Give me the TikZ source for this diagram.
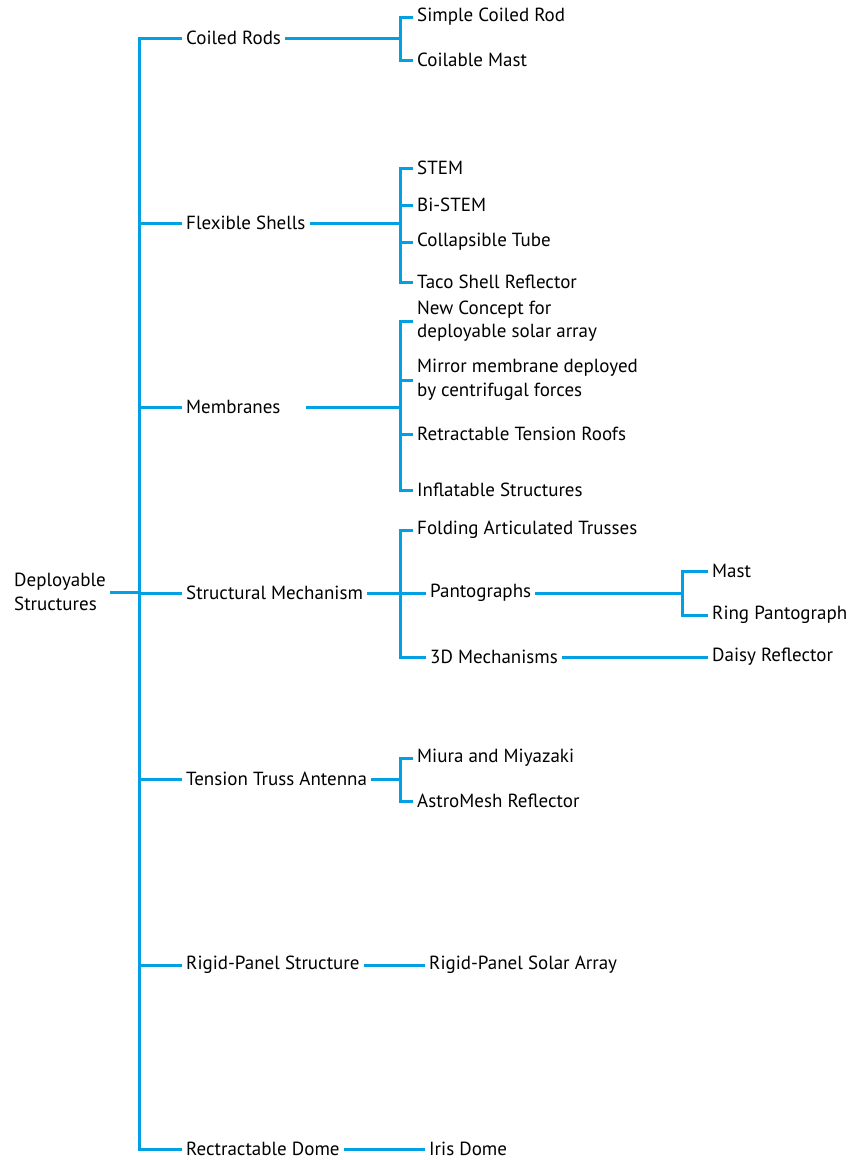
\documentclass[tikz,border=0pt]{standalone}
\usepackage{fontspec}
\setmainfont{PT Sans}
\definecolor{lineblue}{HTML}{00A0E3}
\begin{document}
\begin{tikzpicture}[x=1pt,y=-1pt,
  lbl/.style={anchor=west, inner xsep=4pt, inner ysep=0pt, align=left, font=\fontsize{19}{23.5}\selectfont},
  conn/.style={draw=lineblue, line width=3pt}]
\useasboundingbox (0,0) rectangle (850,1160);
% junction columns
\coordinate (vA) at (139,0);
\coordinate (vB) at (400,0);
\coordinate (vC) at (682,0);
% root
\node[lbl] (root) at (10,592) {Deployable\\Structures};
% level 1
\node[lbl] (cr)  at (182,38)   {Coiled Rods};
\node[lbl] (fs)  at (182,223)  {Flexible Shells};
\node[lbl] (mem) at (182,407)  {Membranes};
\node[lbl] (sm)  at (182,593)  {Structural Mechanism};
\node[lbl] (tta) at (182,779)  {Tension Truss Antenna};
\node[lbl] (rps) at (182,965)  {Rigid-Panel Structure};
\node[lbl] (rd)  at (182,1149) {Rectractable Dome};
% level 2
\node[lbl] (scr)  at (413,17)  {Simple Coiled Rod};
\node[lbl] (cm)   at (413,60)  {Coilable Mast};
\node[lbl] (stem) at (413,168) {STEM};
\node[lbl] (bst)  at (413,205) {Bi-STEM};
\node[lbl] (ct)   at (413,242) {Collapsible Tube};
\node[lbl] (taco) at (413,282) {Taco Shell Reflector};
\node[lbl] (nc)   at (413,321) {New Concept for\\deployable solar array};
\node[lbl] (mir)  at (413,380) {Mirror membrane deployed\\by centrifugal forces};
\node[lbl] (rtr)  at (413,434) {Retractable Tension Roofs};
\node[lbl] (inf)  at (413,490) {Inflatable Structures};
\node[lbl] (fat)  at (413,530) {Folding Articulated Trusses};
\node[lbl] (pan)  at (426,593) {Pantographs};
\node[lbl] (tdm)  at (426,657) {3D Mechanisms};
\node[lbl] (miu)  at (413,758) {Miura and Miyazaki};
\node[lbl] (ast)  at (413,801) {AstroMesh Reflector};
\node[lbl] (rpsa) at (425,965) {Rigid-Panel Solar Array};
\node[lbl] (iris) at (425,1149) {Iris Dome};
% level 3
\node[lbl] (mast)  at (708,571) {Mast};
\node[lbl] (ring)  at (708,615) {Ring Pantograph};
\node[lbl] (daisy) at (708,657) {Daisy Reflector};
\coordinate (memS) at (306,407);
% connectors: trunk
\draw[conn] (root.east) -- (vA |- root.east);
\draw[conn] (cr.west) -| (vA |- rd.west) -- (rd.west);
\foreach \n in {fs,mem,sm,tta,rps} \draw[conn] (vA |- \n.west) -- (\n.west);
% coiled rods
\draw[conn] (cr.east) -- (vB |- cr.east);
\draw[conn] (scr.west) -| (vB |- cm.west) -- (cm.west);
% flexible shells
\draw[conn] (fs.east) -- (vB |- fs.east);
\draw[conn] (stem.west) -| (vB |- taco.west) -- (taco.west);
\foreach \n in {bst,ct} \draw[conn] (vB |- \n.west) -- (\n.west);
% membranes
\draw[conn] (memS) -- (vB |- memS);
\draw[conn] (nc.west) -| (vB |- inf.west) -- (inf.west);
\foreach \n in {mir,rtr} \draw[conn] (vB |- \n.west) -- (\n.west);
% structural mechanism
\draw[conn] (sm.east) -- (vB |- sm.east);
\draw[conn] (fat.west) -| (vB |- tdm.west) -- (tdm.west);
\draw[conn] (vB |- pan.west) -- (pan.west);
\draw[conn] (pan.east) -- (vC |- pan.east);
\draw[conn] (mast.west) -| (vC |- ring.west) -- (ring.west);
\draw[conn] (tdm.east) -- (daisy.west);
% tension truss
\draw[conn] (tta.east) -- (vB |- tta.east);
\draw[conn] (miu.west) -| (vB |- ast.west) -- (ast.west);
% rigid panel, dome
\draw[conn] (rps.east) -- (rpsa.west);
\draw[conn] (rd.east) -- (iris.west);
\end{tikzpicture}
\end{document}
